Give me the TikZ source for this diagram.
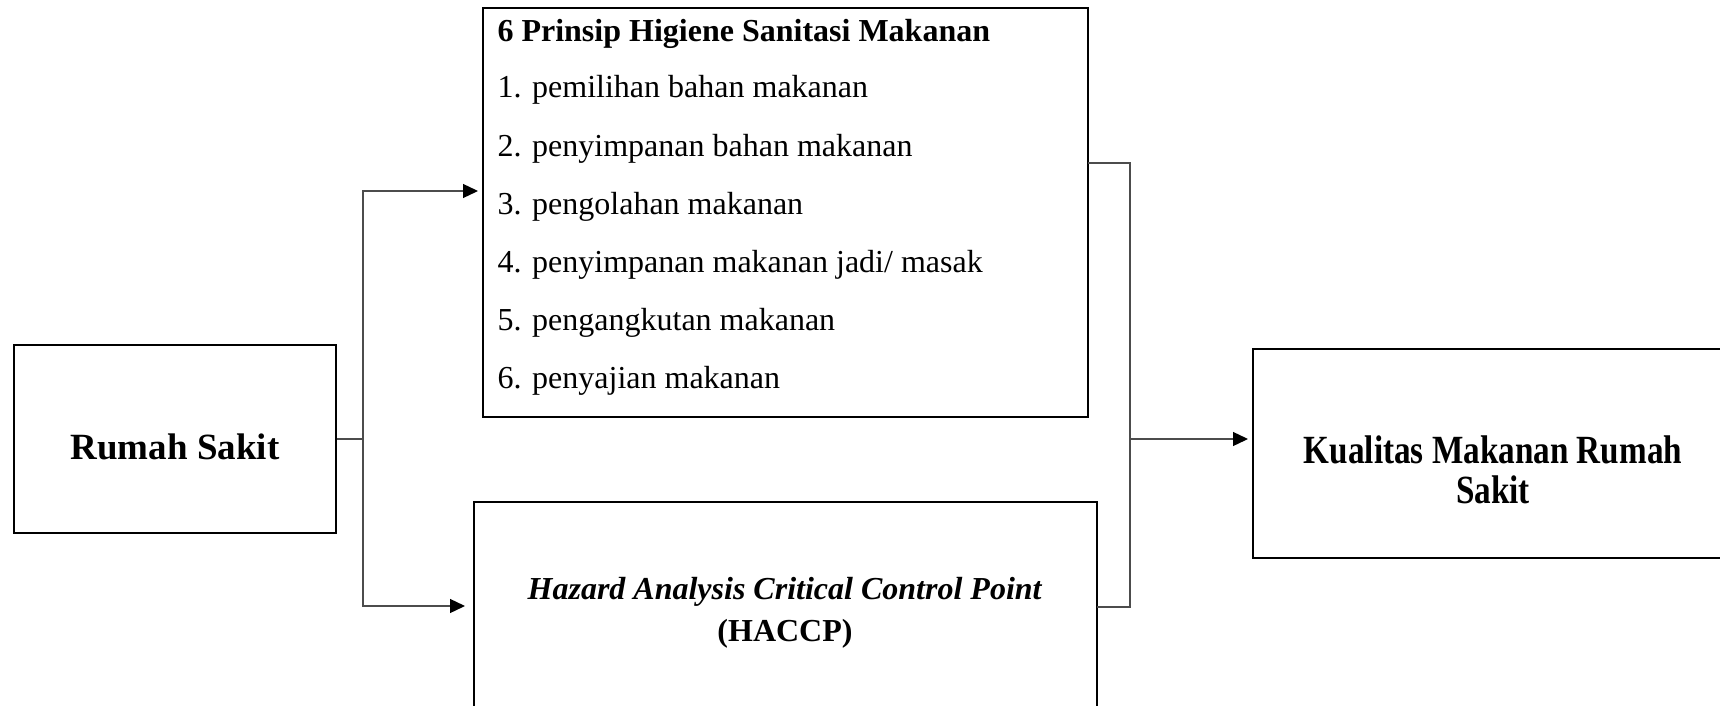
\documentclass[tikz,border=0pt]{standalone}
\usepackage{fontspec}
\usepackage{graphicx}
\setmainfont{Liberation Serif}
\usetikzlibrary{arrows.meta}

\newcommand{\fs}[2]{\fontsize{#1}{#2}\selectfont}

\tikzset{
  box/.style={draw=black, line width=2pt, rectangle, inner sep=0pt},
  link/.style={draw=black!70, line width=1.3pt},
  arr/.style={link, -{Triangle[length=15pt,width=14pt,color=black,fill=black]}},
  itemtext/.style={anchor=base west, font=\fs{32}{32}},
}

\begin{document}
\begin{tikzpicture}[x=1pt,y=-1pt]
  % page
  \clip (0,0) rectangle (1720,706);

  % boxes
  \node[box, minimum width=322pt, minimum height=188pt] (rs) at (175,439) {};
  \node[box, minimum width=605pt, minimum height=409pt] (top) at (785.5,212.5) {};
  \node[box, minimum width=623pt, minimum height=260pt] (hac) at (785.5,632) {};
  \node[box, minimum width=507pt, minimum height=209pt] (kual) at (1506.5,453.5) {};

  % texts
  \node[font=\bfseries\fs{37}{37}] (rstext) at (175,447) {Rumah Sakit};
  \node[anchor=base west, font=\bfseries\fs{32}{32}] (title) at (494,42) {6 Prinsip Higiene Sanitasi Makanan};
  \foreach \t [count=\i] in {pemilihan bahan makanan, penyimpanan bahan makanan,
      pengolahan makanan, penyimpanan makanan jadi/ masak,
      pengangkutan makanan, penyajian makanan}
    \node[itemtext] (item\i) at (494,40+58*\i) {\i. \t};
  \node[align=center, font=\bfseries\fs{32}{42}] (hactext) at (785,613)
    {\textit{Hazard Analysis Critical Control Point}\\(HACCP)};
  \node[align=center, font=\bfseries\fs{40}{40}] (kualtext) at (1493,470)
    {\scalebox{0.83}[1]{Kualitas Makanan Rumah}\\\scalebox{0.83}[1]{Sakit}};

  % connectors
  \coordinate (fork) at (363,439);
  \coordinate (topin) at (478,191);
  \coordinate (hacin) at (465,606);
  \draw[link] (rs.east) -- (fork);
  \draw[arr] (fork) |- (topin);
  \draw[arr] (fork) |- (hacin);

  \coordinate (topout) at (1088,163);
  \coordinate (hacout) at (1097,607);
  \coordinate (join) at (1130,439);
  \coordinate (kualin) at (1248,439);
  \draw[link] (topout) -| (join);
  \draw[link] (hacout) -| (join);
  \draw[arr] (join) -- (kualin);
\end{tikzpicture}
\end{document}
